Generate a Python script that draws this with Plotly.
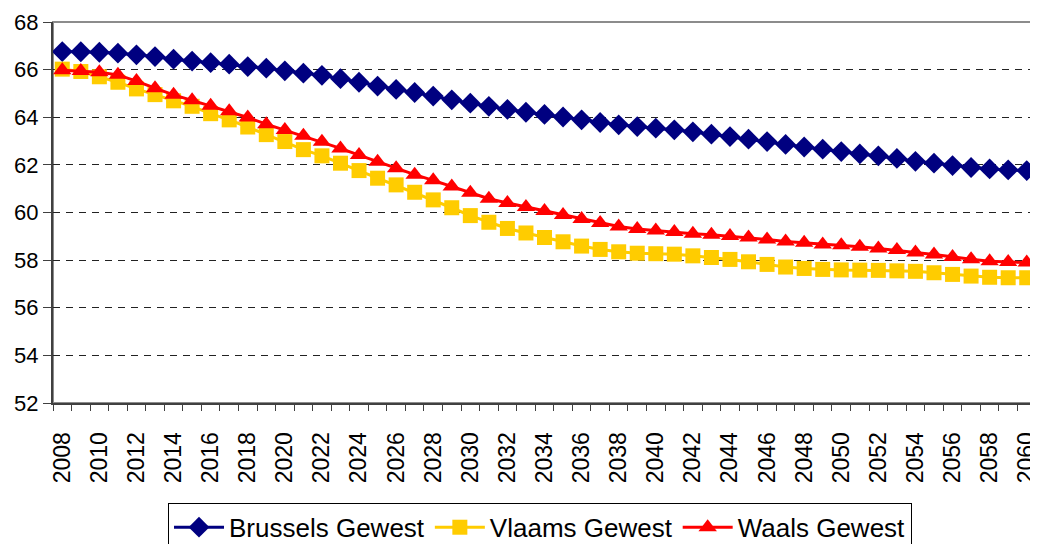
import plotly.graph_objects as go

years = list(range(2008, 2061))
tick_years = list(range(2008, 2061, 2))
tick_labels = [str(y) for y in tick_years]
y_ticks = list(range(52, 69, 2))

brussels = [66.76, 66.75, 66.73, 66.69, 66.62, 66.55, 66.44, 66.36, 66.29, 66.23,
            66.13, 66.06, 65.95, 65.85, 65.76, 65.62, 65.47, 65.31, 65.17, 65.04,
            64.89, 64.73, 64.59, 64.46, 64.33, 64.21, 64.12, 64.01, 63.89, 63.78,
            63.68, 63.61, 63.54, 63.47, 63.39, 63.29, 63.19, 63.08, 62.98, 62.86,
            62.75, 62.66, 62.56, 62.46, 62.38, 62.27, 62.15, 62.07, 61.97, 61.89,
            61.83, 61.79, 61.76]
vlaams = [66.02, 65.92, 65.70, 65.47, 65.19, 64.95, 64.69, 64.46, 64.15, 63.89,
          63.59, 63.27, 62.98, 62.64, 62.38, 62.07, 61.76, 61.44, 61.16, 60.85,
          60.53, 60.20, 59.87, 59.59, 59.33, 59.14, 58.95, 58.77, 58.59, 58.45,
          58.35, 58.29, 58.27, 58.25, 58.18, 58.11, 58.03, 57.93, 57.82, 57.71,
          57.65, 57.61, 57.59, 57.58, 57.57, 57.55, 57.53, 57.47, 57.40, 57.33,
          57.28, 57.26, 57.26]
waals = [65.97, 65.94, 65.89, 65.78, 65.52, 65.22, 64.94, 64.71, 64.48, 64.25,
         63.99, 63.71, 63.46, 63.22, 62.97, 62.69, 62.41, 62.13, 61.86, 61.59,
         61.35, 61.09, 60.83, 60.58, 60.40, 60.23, 60.06, 59.90, 59.73, 59.56,
         59.41, 59.31, 59.24, 59.18, 59.11, 59.07, 59.01, 58.95, 58.87, 58.78,
         58.73, 58.66, 58.62, 58.56, 58.49, 58.42, 58.32, 58.24, 58.13, 58.04,
         57.95, 57.92, 57.90]

series = [
    ("Brussels Gewest", brussels, "#000080", "diamond", 16),
    ("Vlaams Gewest", vlaams, "#FFCC00", "square", 15),
    ("Waals Gewest", waals, "#FF0000", "triangle-up", 16),
]

fig = go.Figure()
for name, vals, color, sym, size in series:
    fig.add_trace(go.Scatter(
        x=years, y=vals, name=name, mode="lines+markers",
        line=dict(color=color, width=3),
        marker=dict(symbol=sym, size=size, color=color, line=dict(width=0)),
    ))

font = "Liberation Sans, Arial, sans-serif"
# The page body has an 8px margin, so the figure is 8px smaller on each axis
fig.update_layout(
    width=1030, height=536,
    margin=dict(l=45, r=2, t=14, b=141, autoexpand=False),
    paper_bgcolor="white", plot_bgcolor="white",
    font=dict(family=font, color="black"),
    showlegend=True,
    legend=dict(
        orientation="h", x=0.117, xanchor="left", y=-0.262, yanchor="top",
        font=dict(size=26, family=font, color="black"),
        bordercolor="black", borderwidth=1, bgcolor="white",
        itemwidth=50, tracegroupgap=0,
    ),
    shapes=[dict(type="rect", xref="paper", yref="paper", x0=0, x1=1, y0=0, y1=1,
                 line=dict(color="#8c8c8c", width=2), layer="below")],
)
fig.update_xaxes(
    range=[2007.5, 2060.5], automargin=False,
    tickmode="array", tickvals=tick_years, ticktext=tick_labels,
    tickangle=-90, tickfont=dict(size=23, family=font, color="black"),
    ticks="outside", ticklen=6, tickcolor="rgba(0,0,0,0)",
    ticklabelstandoff=12, ticklabeloverflow="allow",
    minor=dict(tick0=2007.5, dtick=1, ticks="outside", ticklen=6,
               tickcolor="#404040", tickwidth=1, showgrid=False),
    showgrid=False, zeroline=False,
    showline=True, linecolor="#404040", linewidth=2,
)
fig.update_yaxes(
    range=[52, 68], tickmode="array", tickvals=y_ticks, automargin=False,
    tickfont=dict(size=22, family=font, color="black"),
    ticks="outside", ticklen=8, tickcolor="#404040", tickwidth=1,
    showgrid=True, gridcolor="#222222", gridwidth=1, griddash="7px,6px",
    zeroline=False, showline=True, linecolor="#404040", linewidth=2,
)

fig.write_html("out.html")
